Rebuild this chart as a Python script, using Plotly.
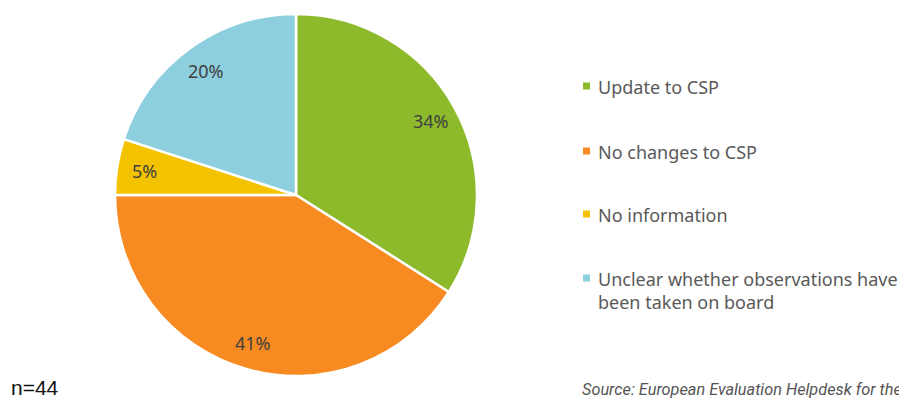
import math
import plotly.graph_objects as go

# Share of cases by outcome (percent), n=44
categories = ["Update to CSP", "No changes to CSP", "No information",
              "Unclear whether observations have<br>been taken on board"]
shares = [34, 41, 5, 20]
colors = ["#8DBA2B", "#F78B21", "#F4C300", "#8ECFDF"]

W, H = 899, 399
cx, cy, R = 296, 195, 181  # pie centre and radius in pixels

fig = go.Figure(go.Pie(
    labels=categories,
    values=shares,
    sort=False,
    direction="clockwise",
    rotation=0,
    marker=dict(colors=colors, line=dict(color="white", width=2.5)),
    textinfo="none",
    hoverinfo="label+percent",
    showlegend=False,
    domain=dict(x=[(cx - R) / W, (cx + R) / W],
                y=[(H - cy - R) / H, (H - cy + R) / H]),
))

annotations = []
shapes = []

# percentage labels placed inside each slice, along its mid-angle
total = sum(shares)
acc = 0
for v in shares:
    mid = (acc + v / 2) / total * 2 * math.pi
    acc += v
    r = 0.85 * R
    px = cx + r * math.sin(mid)
    py = cy - r * math.cos(mid)
    annotations.append(dict(
        x=px / W, y=(H - py) / H, xref="paper", yref="paper",
        xanchor="center", yanchor="middle",
        text=f"{v}%", showarrow=False,
        font=dict(family="Noto Sans", size=18, color="#404040"),
    ))

# legend drawn as coloured squares with labels
legend_y = [86, 151, 214, 278]
for label, col, ly in zip(categories, colors, legend_y):
    shapes.append(dict(
        type="rect", xref="paper", yref="paper",
        x0=583 / W, x1=590 / W, y0=(H - ly - 3.5) / H, y1=(H - ly + 3.5) / H,
        fillcolor=col, line=dict(width=0),
    ))
    annotations.append(dict(
        x=596 / W, y=(H - ly + 13) / H, xref="paper", yref="paper",
        xanchor="left", yanchor="top", align="left",
        text=label, showarrow=False,
        font=dict(family="Noto Sans", size=18, color="#595959"),
    ))

annotations.append(dict(
    x=9 / W, y=(H - 387) / H, xref="paper", yref="paper",
    xanchor="left", yanchor="middle", text="n=44", showarrow=False,
    font=dict(family="Liberation Sans", size=21, color="#111111"),
))
annotations.append(dict(
    x=580 / W, y=(H - 389) / H, xref="paper", yref="paper",
    xanchor="left", yanchor="middle",
    text="<i>Source: European Evaluation Helpdesk for the CAP</i>",
    showarrow=False,
    font=dict(family="Roboto", size=16.3, color="#555555"),
))

fig.update_layout(
    width=W, height=H,
    margin=dict(l=0, r=0, t=0, b=0),
    paper_bgcolor="white", plot_bgcolor="white",
    annotations=annotations, shapes=shapes,
)

fig.write_html("out.html")
